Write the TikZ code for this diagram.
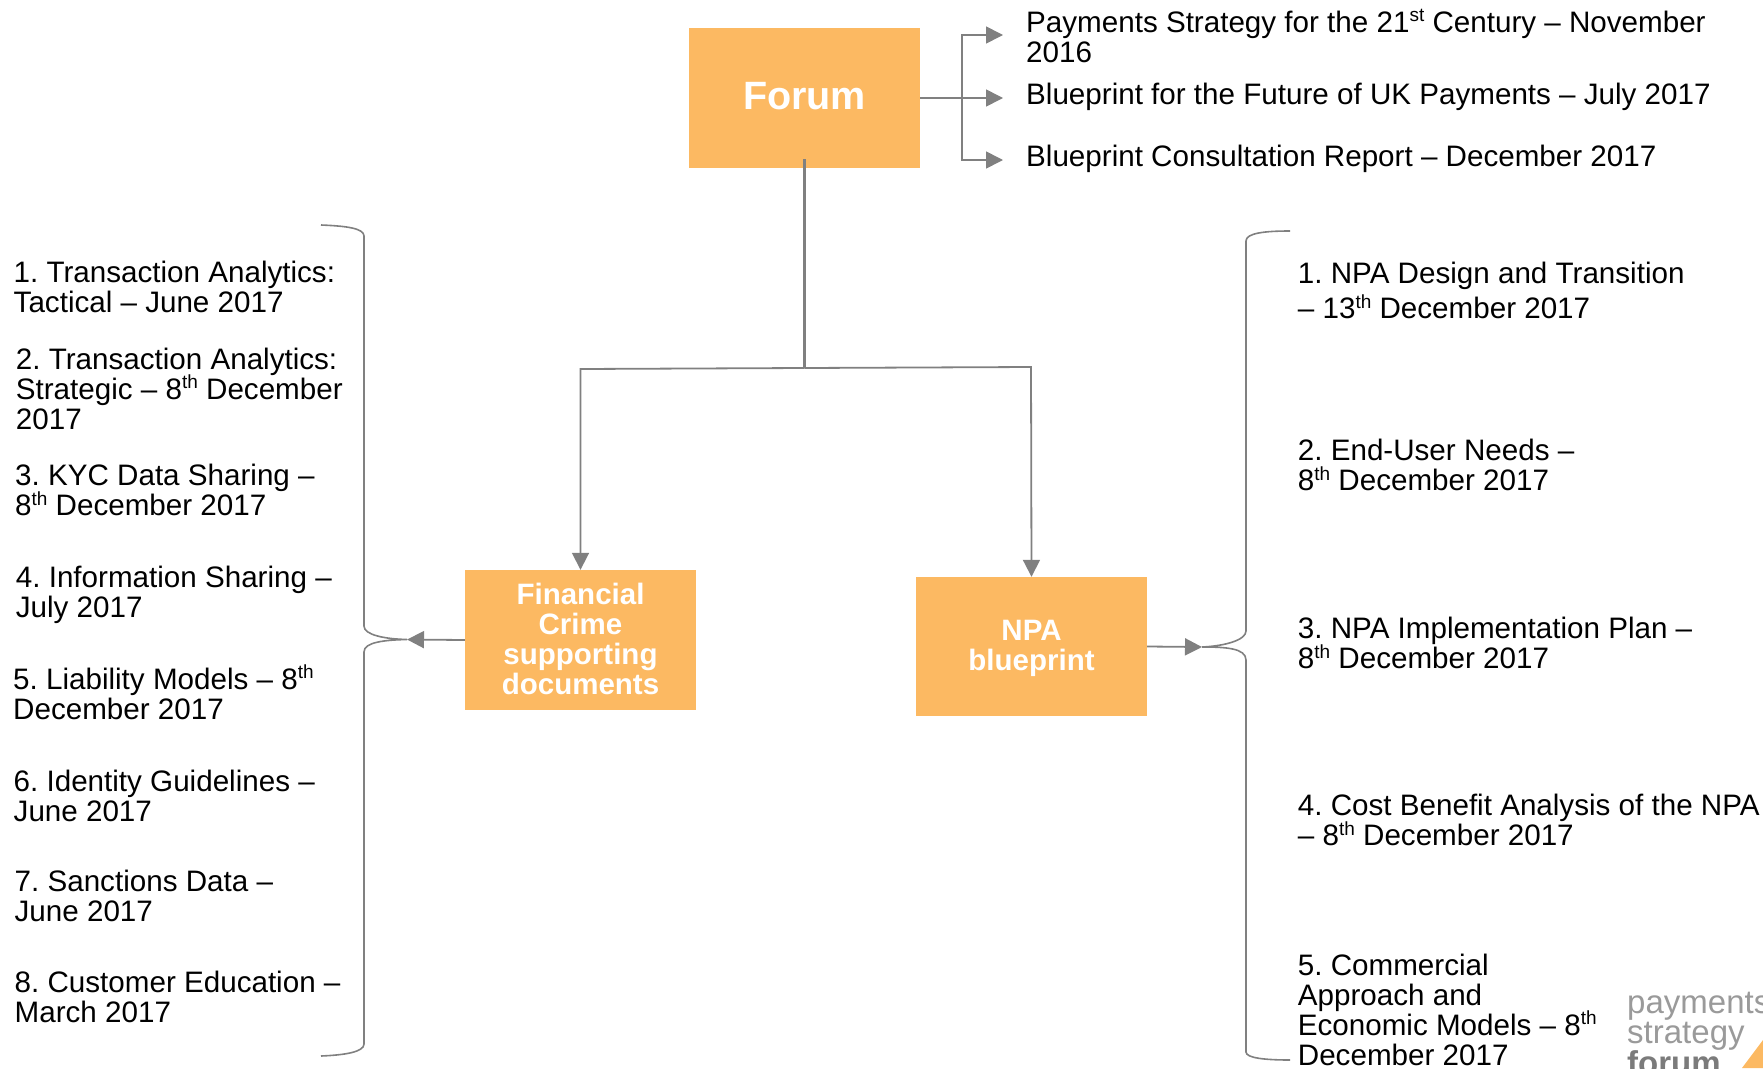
\documentclass[tikz,border=0pt]{standalone}
\usepackage{fontspec}
\setmainfont{Liberation Sans}
\usetikzlibrary{arrows.meta}
\definecolor{boxor}{HTML}{FCB962}
\definecolor{lnk}{HTML}{808080}
\definecolor{logogr}{HTML}{9A9A9A}
\newcommand\up[1]{\smash{\raisebox{0.36em}{\fontsize{19}{19}\selectfont #1}}}
\tikzset{
  x=1pt,y=-1pt,
  txt/.style={anchor=north west,inner sep=0pt,align=left,font=\fontsize{29.6}{30.2}\selectfont,execute at begin node={\frenchspacing\rule{0pt}{20pt}}},
  orbox/.style={fill=boxor,inner sep=0pt,text=white,align=center,font=\fontsize{29.5}{30}\selectfont\bfseries},
  lnkline/.style={draw=lnk,line width=2.2pt},
  arr/.style={lnkline,-{Triangle[length=17pt,width=17pt,fill=lnk]}},
  brk/.style={draw=lnk,line width=1.6pt},
}
\begin{document}
\begin{tikzpicture}
\useasboundingbox (0,0) rectangle (1763,1068);
% boxes
\node[orbox,minimum width=231pt,minimum height=140pt,font=\fontsize{39.5}{41}\selectfont\bfseries] (forum) at (804.5,98) {Forum\rule[-4.5pt]{0pt}{4.5pt}};
\node[orbox,minimum width=231pt,minimum height=140pt] (fin) at (580.5,640) {Financial\\Crime\\supporting\\documents\rule[-2pt]{0pt}{2pt}};
\node[orbox,minimum width=231pt,minimum height=139pt] (npa) at (1031.5,646.5) {\rule{0pt}{24pt}NPA\\blueprint};
% top docs
\node[txt] (d1) at (1026,10.5) {Payments Strategy for the 21\up{st} Century – November\\2016};
\node[txt] (d2) at (1026,82.5) {Blueprint for the Future of UK Payments – July 2017};
\node[txt] (d3) at (1026,145) {Blueprint Consultation Report – December 2017};
% top connectors
\coordinate (trunk) at (962,98);
\coordinate (a1) at (1003,35);
\coordinate (a2) at (1003,98);
\coordinate (a3) at (1003,160);
\draw[lnkline] (forum.east) -- (trunk);
\draw[arr,line width=1.6pt] (trunk) -- (a2);
\draw[arr,line width=1.6pt] (trunk) |- (a1);
\draw[arr,line width=1.6pt] (trunk) |- (a3);
% tree
\coordinate (fb) at (804.5,159);
\coordinate (junc) at (804.5,368);
\draw[lnkline] (fb) -- (junc);
\draw[arr,line width=1.8pt] (junc) -- (580.5,369) -- (fin.north);
\draw[arr,line width=1.8pt] (junc) -- (1031,367) -- (npa.north);
% brackets and arrows
\coordinate (ltip) at (407,639.5);
\coordinate (rtip) at (1202,647);
\draw[arr,line width=1.8pt] (fin.west) -- (ltip);
\draw[arr,line width=1.8pt] (npa.east) -- (rtip);
\draw[brk] (321,225) .. controls (345,226) and (364,228) .. (364,236) -- (364,626) .. controls (364,635) and (385,639) .. (ltip)
  .. controls (385,640) and (364,642) .. (364,652) -- (364,1044) .. controls (364,1052) and (345,1055) .. (321,1056);
\draw[brk] (1290,231) .. controls (1265,231) and (1246,233) .. (1246,241) -- (1246,631) .. controls (1246,640) and (1225,646) .. (rtip)
  .. controls (1225,647) and (1246,648) .. (1246,660) -- (1246,1052) .. controls (1246,1058) and (1265,1060) .. (1290,1060);
% left list
\node[txt] (l1) at (13.5,261) {1. Transaction Analytics:\\Tactical – June 2017};
\node[txt] (l2) at (15.7,347.8) {2. Transaction Analytics:\\Strategic – 8\up{th} December\\2017};
\node[txt] (l3) at (15,464) {3. KYC Data Sharing –\\8\up{th} December 2017};
\node[txt] (l4) at (15.7,566) {4. Information Sharing –\\July 2017};
\node[txt] (l5) at (13,667.4) {5. Liability Models – 8\up{th}\\December 2017};
\node[txt] (l6) at (13.5,769.5) {6. Identity Guidelines –\\June 2017};
\node[txt] (l7) at (14.5,869.5) {7. Sanctions Data –\\June 2017};
\node[txt] (l8) at (14.5,970.7) {8. Customer Education –\\March 2017};
% right list
\node[txt] (r1) at (1297.7,262) {1. NPA Design and Transition\\[5pt]– 13\up{th} December 2017};
\node[txt] (r2) at (1297.7,439) {2. End-User Needs –\\8\up{th} December 2017};
\node[txt] (r3) at (1297.7,617) {3. NPA Implementation Plan –\\8\up{th} December 2017};
\node[txt] (r4) at (1297.7,794) {4. Cost Benefit Analysis of the NPA\\– 8\up{th} December 2017};
\node[txt] (r5) at (1297.7,953.5) {5. Commercial\\Approach and\\Economic Models – 8\up{th}\\December 2017};
% logo
\node[anchor=base west,inner sep=0pt,text=logogr,font=\fontsize{33}{33}\selectfont] (lg1) at (1627,1013) {payments};
\node[anchor=base west,inner sep=0pt,text=logogr,font=\fontsize{33}{33}\selectfont] (lg2) at (1627,1043) {strategy};
\node[anchor=base west,inner sep=0pt,text=logogr!80!black,font=\fontsize{33}{33}\selectfont\bfseries] (lg3) at (1627,1074) {forum};
\fill[boxor] (1742,1068) -- (1763,1040) -- (1763,1068) -- cycle;
\end{tikzpicture}
\end{document}
